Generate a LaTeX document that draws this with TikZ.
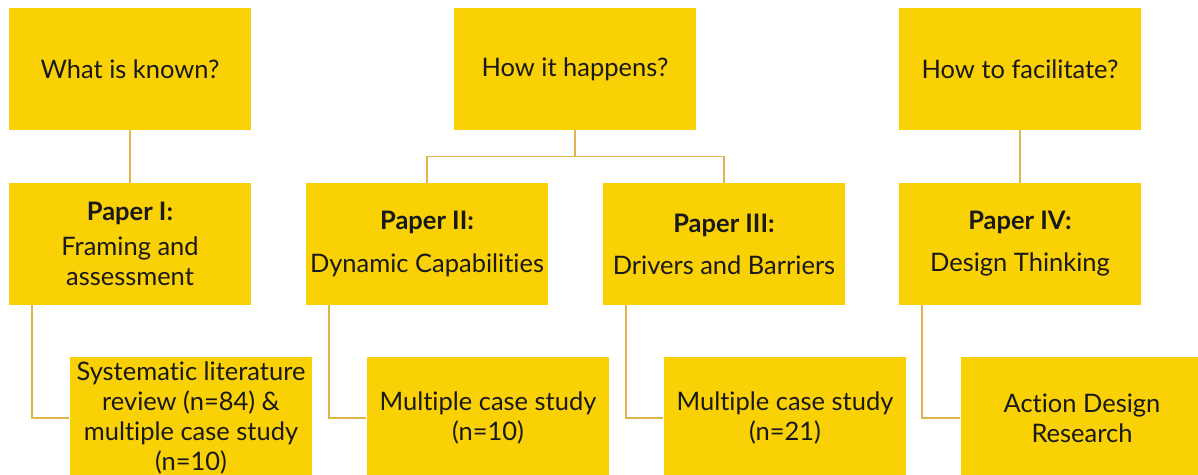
\documentclass[tikz,border=0pt]{standalone}
\usepackage{fontspec}
\setmainfont{Lato}[Ligatures=NoCommon]
\usepackage{tikz}
\usetikzlibrary{positioning,calc}
\definecolor{BoxGold}{HTML}{FAD105}
\definecolor{LinkGold}{HTML}{DDB548}

\begin{document}
\begin{tikzpicture}[x=0.02cm,y=-0.02cm,
  box/.style={rectangle,fill=BoxGold,minimum width=4.86cm,minimum height=2.44cm,
              align=center,inner sep=2pt,text=black!90,
              font=\fontsize{14.5}{17}\selectfont},
  link/.style={draw=LinkGold,line width=0.9pt}
]
  \clip (0,0) rectangle (1198,474);
  % questions
  \node[box] (known) at (130,69) {What is known?};
  \node[box] (how) at (575,69) {How it happens?};
  \node[box] (facil) at (1020,69) {How to facilitate?};
  % papers
  \node[box] (pone) at (130,244) {\textbf{Paper I:}\\[3pt]Framing and\\assessment};
  \node[box] (ptwo) at (427,244) {\textbf{Paper II:}\\[7pt]Dynamic Capabilities};
  \node[box] (pthree) at (724,244) {\textbf{Paper III:}\\[7pt]Drivers and Barriers};
  \node[box] (pfour) at (1020,244) {\textbf{Paper IV:}\\[7pt]Design Thinking};
  % methods
  \node[box] (mone) at (191,418) {Systematic literature\\review (n=84) \&\\multiple case study\\(n=10)};
  \node[box] (mtwo) at (488,418) {Multiple case study\\(n=10)};
  \node[box] (mthree) at (785,418) {Multiple case study\\(n=21)};
  \node[box] (mfour) at (1082,418) {Action Design\\Research};
  % connectors
  \draw[link] (known) -- (pone);
  \draw[link] (facil) -- (pfour);
  \draw[link] (how.south) -- ++(0,26) -| (ptwo.north);
  \draw[link] (how.south) -- ++(0,26) -| (pthree.north);
  \draw[link] ([xshift=0.48cm]pone.south west) |- (mone.west);
  \draw[link] ([xshift=0.48cm]ptwo.south west) |- (mtwo.west);
  \draw[link] ([xshift=0.48cm]pthree.south west) |- (mthree.west);
  \draw[link] ([xshift=0.48cm]pfour.south west) |- (mfour.west);
\end{tikzpicture}
\end{document}
